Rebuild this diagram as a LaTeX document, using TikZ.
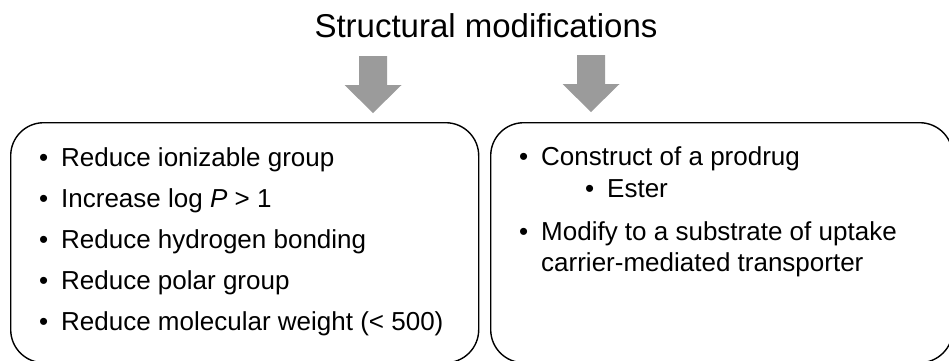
\documentclass[tikz,border=0pt]{standalone}
\usepackage{fontspec}
\setmainfont{Liberation Sans}
\usetikzlibrary{positioning}

\definecolor{arrowgray}{RGB}{155,155,155}
\tikzset{
    panel/.style={draw, line width=1.4pt, rounded corners=33pt, inner sep=0pt, anchor=north west},
    item/.style={anchor=base west, inner sep=0pt, font=\fontsize{26}{31}\selectfont},
    fatarrow/.pic={\fill[arrowgray] (-14,0) -- (14,0) -- (14,29) -- (28.5,29) -- (0,57) -- (-28.5,29) -- (-14,29) -- cycle;}
}

\begin{document}
\begin{tikzpicture}[x=1pt, y=-1pt]
    \useasboundingbox (0,0) rectangle (949,360); % page size
    \node[anchor=base, inner sep=0pt, font=\fontsize{33}{40}\selectfont] (title) at (486,37) {Structural modifications};
    \pic (larrow) at (373,56) {fatarrow};
    \pic (rarrow) at (591,55) {fatarrow};
    \node[panel, minimum width=468pt, minimum height=240pt] (lbox) at (10,122) {};
    \node[panel, minimum width=462pt, minimum height=240pt] (rbox) at (490,122) {};
    % left list
    \foreach \txt [count=\i, evaluate=\i as \yy using 125+41*\i] in
        {Reduce ionizable group, Increase log \textit{P} > 1, Reduce hydrogen bonding,
         Reduce polar group, Reduce molecular weight (< 500)} {
        \node[item] (lb\i) at (39,\yy) {•};
        \node[item] (l\i) at (61,\yy) {\txt};
    }
    % right list
    \node[item] (rb1) at (519,165) {•};
    \node[item] (r1) at (541,165) {Construct of a prodrug};
    \node[item] (rb2) at (585,197) {•};
    \node[item] (r2) at (607,197) {Ester};
    \node[item] (rb3) at (519,240) {•};
    \node[item] (r3) at (541,240) {Modify to a substrate of uptake};
    \node[item] (r4) at (541,271) {carrier-mediated transporter};
\end{tikzpicture}
\end{document}
